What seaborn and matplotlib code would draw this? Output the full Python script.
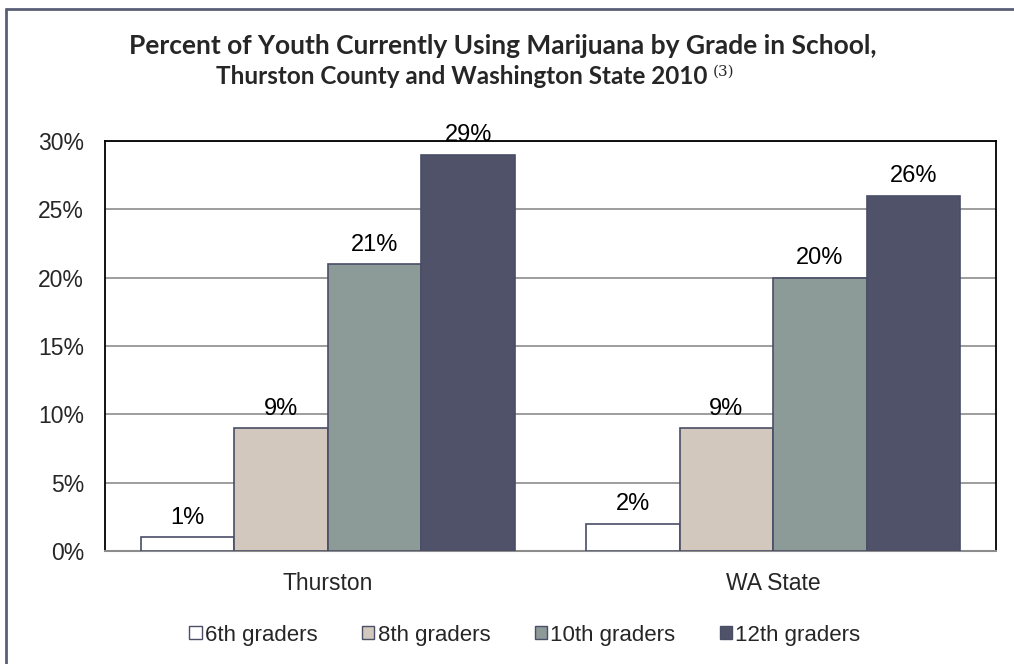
import numpy as np
import pandas as pd
import seaborn as sns
import matplotlib.pyplot as plt
from matplotlib.lines import Line2D
from matplotlib.patches import Patch

regions = ['Thurston', 'WA State']
grades = ['6th graders', '8th graders', '10th graders', '12th graders']
thurston = [1, 9, 21, 29]
wa_state = [2, 9, 20, 26]
colors = ['#ffffff', '#d3c8be', '#8c9a98', '#4f5268']

rows = []
for g, t, w in zip(grades, thurston, wa_state):
    rows.append((regions[0], g, t))
    rows.append((regions[1], g, w))
df = pd.DataFrame(rows, columns=['region', 'grade', 'pct'])

sns.set_style('white')
plt.rcParams['font.family'] = ['Liberation Sans', 'DejaVu Sans']

fig = plt.figure(figsize=(10.14, 6.64), dpi=100)
ax = fig.add_axes([105 / 1014, 1 - 551 / 664, 891 / 1014, 410 / 664])

sns.barplot(data=df, x='region', y='pct', hue='grade', hue_order=grades,
            palette=colors, width=0.84, edgecolor='#4a4e66', linewidth=1.2,
            saturation=1, legend=False, ax=ax, zorder=3)

for cont in ax.containers:
    ax.bar_label(cont, labels=[f'{v:.0f}%' for v in cont.datavalues],
                 padding=6, fontsize=17, color='black')

ax.set_xlim(-0.5, 1.5)
ax.set_ylim(0, 30)
ax.set_yticks(np.arange(0, 31, 5))
ax.set_yticklabels([f'{v}%' for v in range(0, 31, 5)], fontsize=16.5)
ax.tick_params(axis='x', labelsize=16.5, length=0, pad=15)
ax.tick_params(axis='y', length=0, pad=15)
ax.set_xlabel('')
ax.set_ylabel('')
ax.yaxis.grid(True, color='#8c8c8c', linewidth=1.2, zorder=0)
ax.set_axisbelow(True)
for side in ['left', 'top', 'right']:
    ax.spines[side].set_color('black')
    ax.spines[side].set_linewidth(1.3)
ax.spines['bottom'].set_color('#8c8c8c')
ax.spines['bottom'].set_linewidth(1.5)

handles = [Patch(facecolor=c, edgecolor='#4a4e66', linewidth=1) for c in colors]
fig.legend(handles, grades, loc='center', bbox_to_anchor=(525 / 1014, 1 - 635 / 664),
           ncol=4, frameon=False, fontsize=16, handlelength=0.55, handleheight=0.55,
           handletextpad=0.15, columnspacing=2.0)

fig.text(503 / 1014, 1 - 46 / 664,
         'Percent of Youth Currently Using Marijuana by Grade in School,',
         ha='center', va='center', fontsize=19, fontweight='bold', family='Lato')
t2 = fig.text(462 / 1014, 1 - 76 / 664, 'Thurston County and Washington State 2010',
              ha='center', va='center', fontsize=17.5, fontweight='bold', family='Lato')
ax.annotate('(3)', xy=(1, 0.7), xycoords=t2, xytext=(4, 0), textcoords='offset points',
            ha='left', va='center', fontsize=11, family='DejaVu Serif')

# outer frame, only top and left visible in the crop
fig.add_artist(Line2D([5.5 / 1014, 5.5 / 1014], [0, 1 - 8.5 / 664],
                      transform=fig.transFigure, color='#5a5f78', linewidth=2))
fig.add_artist(Line2D([5.5 / 1014, 1], [1 - 8.5 / 664, 1 - 8.5 / 664],
                      transform=fig.transFigure, color='#5a5f78', linewidth=2))

plt.savefig('out.png', dpi=100)
